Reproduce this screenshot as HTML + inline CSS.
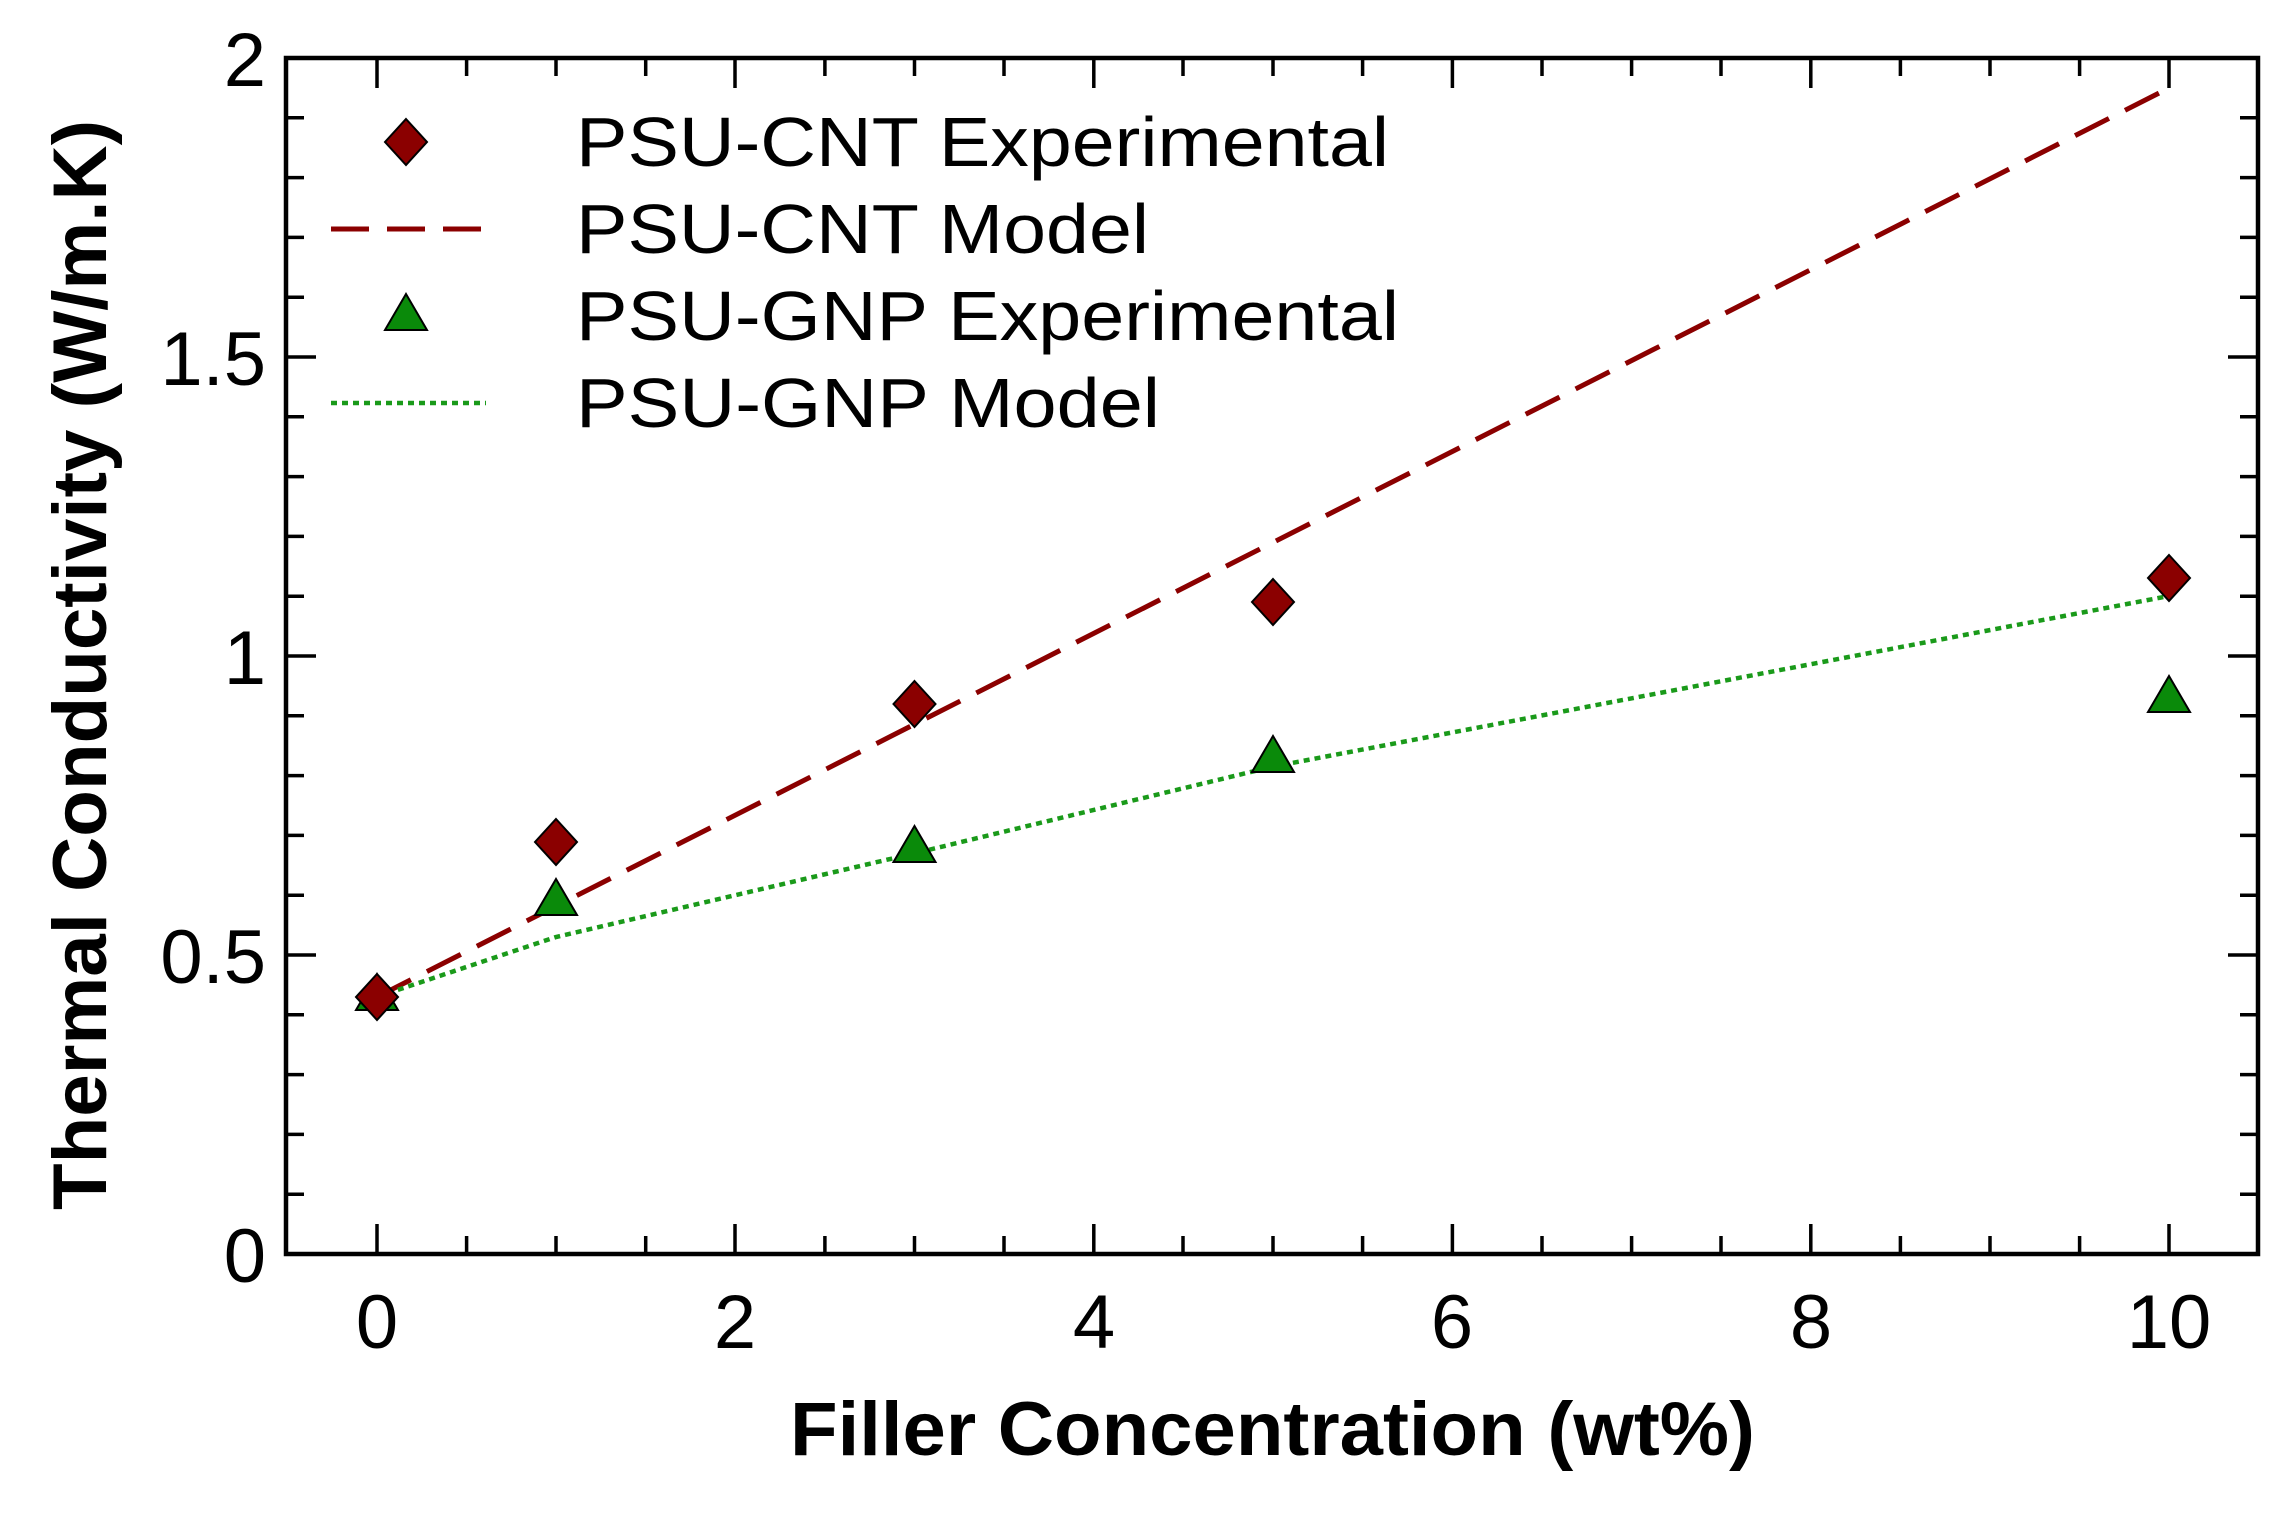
<!DOCTYPE html>
<html><head><meta charset="utf-8"><style>html,body{margin:0;padding:0;background:#fff}</style></head>
<body>
<svg width="2274" height="1523" viewBox="0 0 2274 1523" xmlns="http://www.w3.org/2000/svg" font-family="Liberation Sans, Arial, sans-serif">
<rect width="2274" height="1523" fill="#fff"/>
<g stroke="#000" stroke-width="3.5">
<path d="M377 1254v-30M466.6 1254v-18M556 1254v-18M645.7 1254v-18M735 1254v-30M824.9 1254v-18M914.5 1254v-18M1004 1254v-18M1093.8 1254v-30M1183 1254v-18M1273 1254v-18M1362.6 1254v-18M1452.4 1254v-30M1542 1254v-18M1631.6 1254v-18M1721 1254v-18M1810.8 1254v-30M1900.4 1254v-18M1990 1254v-18M2079.6 1254v-18M2169 1254v-30"/>
<path d="M377 58v30M466.6 58v18M556 58v18M645.7 58v18M735 58v30M824.9 58v18M914.5 58v18M1004 58v18M1093.8 58v30M1183 58v18M1273 58v18M1362.6 58v18M1452.4 58v30M1542 58v18M1631.6 58v18M1721 58v18M1810.8 58v30M1900.4 58v18M1990 58v18M2079.6 58v18M2169 58v30"/>
<path d="M286 1254h30M286 1194.2h18M286 1134.4h18M286 1074.6h18M286 1014.8h18M286 955h30M286 895.2h18M286 835.4h18M286 775.6h18M286 715.8h18M286 656h30M286 596.2h18M286 536.4h18M286 476.6h18M286 416.8h18M286 357h30M286 297.2h18M286 237.4h18M286 177.6h18M286 117.8h18M286 58h30"/>
<path d="M2258 1254h-30M2258 1194.2h-18M2258 1134.4h-18M2258 1074.6h-18M2258 1014.8h-18M2258 955h-30M2258 895.2h-18M2258 835.4h-18M2258 775.6h-18M2258 715.8h-18M2258 656h-30M2258 596.2h-18M2258 536.4h-18M2258 476.6h-18M2258 416.8h-18M2258 357h-30M2258 297.2h-18M2258 237.4h-18M2258 177.6h-18M2258 117.8h-18M2258 58h-30"/>
</g>
<rect x="286" y="58" width="1972" height="1196" fill="none" stroke="#000" stroke-width="4.5"/>
<line x1="377" y1="996.9" x2="2169" y2="88" stroke="#8b0000" stroke-width="5" stroke-dasharray="38,18"/>
<polyline points="377,996.9 556,937 914.5,853.3 1273,766.6 2169,596" fill="none" stroke="#1a9a1a" stroke-width="4.5" stroke-dasharray="6,5"/>
<g fill="#0a8a0a" stroke="#000" stroke-width="2">
<path d="M377 974l21 36h-42z"/>
<path d="M556 879l21 36h-42z"/>
<path d="M914.5 826l21 36h-42z"/>
<path d="M1273 736l21 36h-42z"/>
<path d="M2169 676l21 36h-42z"/>
<path d="M406 294l21 36h-42z"/>
</g>
<g fill="#8b0000" stroke="#000" stroke-width="2">
<path d="M377 974l21 23l-21 23l-21-23z"/>
<path d="M556 819l21 23l-21 23l-21-23z"/>
<path d="M914.5 681l21 23l-21 23l-21-23z"/>
<path d="M1273 579l21 23l-21 23l-21-23z"/>
<path d="M2169 555l21 23l-21 23l-21-23z"/>
<path d="M406 119l21 23l-21 23l-21-23z"/>
</g>
<line x1="331" y1="229" x2="486" y2="229" stroke="#8b0000" stroke-width="5" stroke-dasharray="38,18"/>
<line x1="331" y1="403" x2="486" y2="403" stroke="#1a9a1a" stroke-width="4.5" stroke-dasharray="6,5"/>
<g font-size="70" fill="#000">
<text x="576" y="166" textLength="813" lengthAdjust="spacingAndGlyphs">PSU-CNT Experimental</text>
<text x="576" y="253" textLength="573" lengthAdjust="spacingAndGlyphs">PSU-CNT Model</text>
<text x="576" y="340" textLength="823" lengthAdjust="spacingAndGlyphs">PSU-GNP Experimental</text>
<text x="576" y="427" textLength="584" lengthAdjust="spacingAndGlyphs">PSU-GNP Model</text>
</g>
<g font-size="76" fill="#000" text-anchor="middle">
<text x="377" y="1348">0</text>
<text x="735" y="1348">2</text>
<text x="1094" y="1348">4</text>
<text x="1452" y="1348">6</text>
<text x="1811" y="1348">8</text>
<text x="2169" y="1348">10</text>
</g>
<g font-size="76" fill="#000" text-anchor="end">
<text x="266" y="1282">0</text>
<text x="266" y="983">0.5</text>
<text x="266" y="684">1</text>
<text x="266" y="385">1.5</text>
<text x="266" y="86">2</text>
</g>
<text x="790" y="1455" font-size="76" font-weight="bold" textLength="965" lengthAdjust="spacingAndGlyphs">Filler Concentration (wt%)</text>
<text transform="translate(106,665) rotate(-90)" text-anchor="middle" font-size="76" font-weight="bold" textLength="1090" lengthAdjust="spacingAndGlyphs">Thermal Conductivity (W/m.K)</text>
</svg>
</body></html>
